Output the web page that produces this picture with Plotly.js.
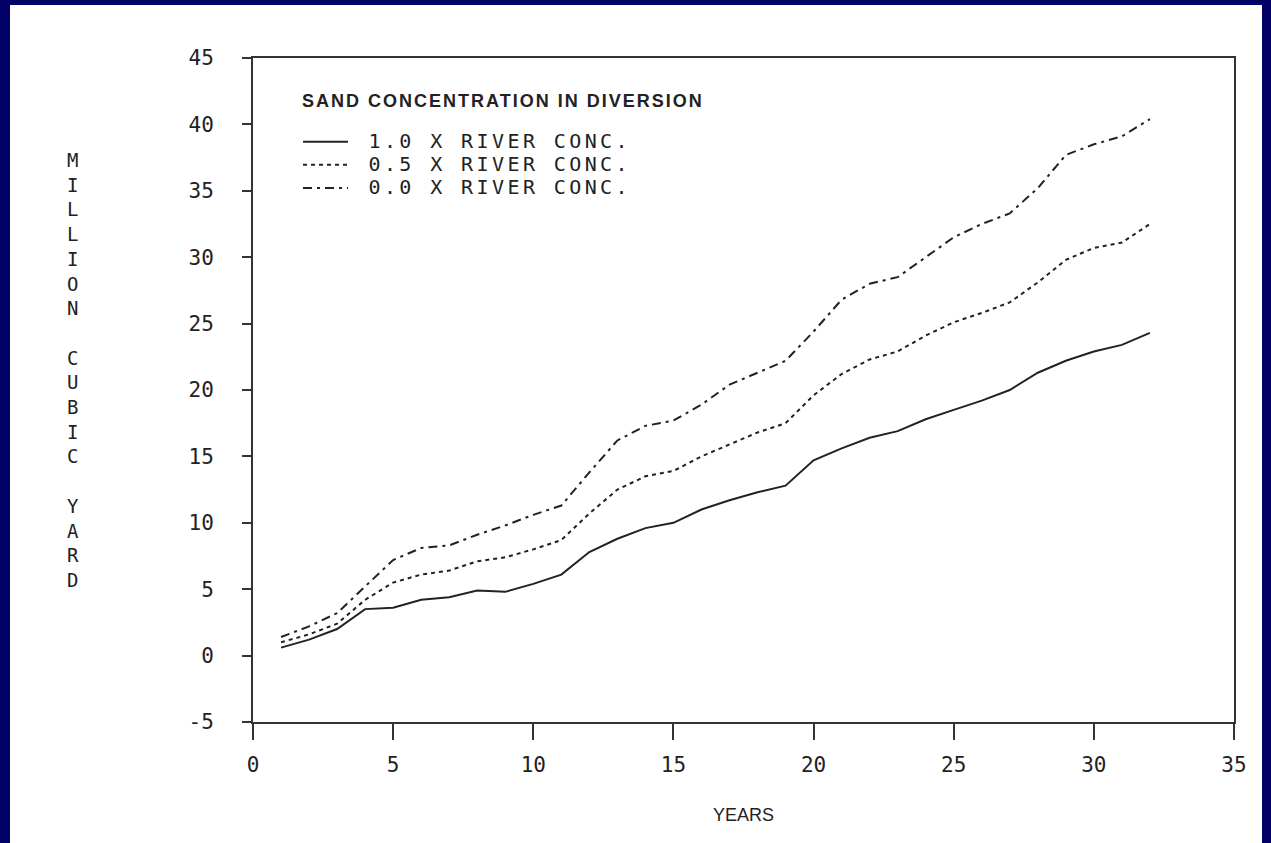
<!DOCTYPE html>
<html>
<head>
<meta charset="utf-8">
<script src="https://cdn.plot.ly/plotly-3.0.1.min.js"></script>
<style>
html,body{margin:0;padding:0;background:#000066;width:1271px;height:843px;overflow:hidden;}
#plot{position:absolute;left:10px;top:5px;width:1252px;height:838px;background:#fff;}
</style>
</head>
<body>
<div id="plot"></div>
<script>
const years = [1,2,3,4,5,6,7,8,9,10,11,12,13,14,15,16,17,18,19,20,21,22,23,24,25,26,27,28,29,30,31,32];
const conc10 = [0.6,1.2,2.0,3.5,3.6,4.2,4.4,4.9,4.8,5.4,6.1,7.8,8.8,9.6,10.0,11.0,11.7,12.3,12.8,14.7,15.6,16.4,16.9,17.8,18.5,19.2,20.0,21.3,22.2,22.9,23.4,24.3];
const conc05 = [1.0,1.6,2.4,4.2,5.5,6.1,6.4,7.1,7.4,8.0,8.7,10.7,12.5,13.5,13.9,15.0,15.9,16.8,17.5,19.6,21.2,22.3,22.9,24.1,25.1,25.8,26.6,28.1,29.8,30.7,31.1,32.5];
const conc00 = [1.4,2.2,3.2,5.2,7.2,8.1,8.3,9.1,9.8,10.6,11.3,13.8,16.2,17.3,17.7,18.9,20.4,21.3,22.2,24.4,26.8,28.0,28.5,30.0,31.5,32.5,33.3,35.2,37.7,38.5,39.1,40.4];
const seriesNames = ['1.0 X RIVER CONC.','0.5 X RIVER CONC.','0.0 X RIVER CONC.'];
const legendTitle = 'SAND CONCENTRATION IN DIVERSION';
const xTitle = 'YEARS';
const yTitle = 'MILLION CUBIC YARD';
const xTicks = [0,5,10,15,20,25,30,35];
const yTicks = [-5,0,5,10,15,20,25,30,35,40,45];

const mono = '"DejaVu Sans Mono", "Liberation Mono", monospace';
const sans = '"Liberation Sans", Arial, sans-serif';
const lineCol = '#222';
const spaced = (s, px) => '<span style="letter-spacing:' + px + 'px">' + s + '</span>';
const bigSpaced = (s) => '<span style="font-size:20px;letter-spacing:3.4px">' + s + '</span>';

const traces = [
  {x: years, y: conc10, name: bigSpaced('\u00a0' + seriesNames[0]), mode:'lines', line:{color:lineCol, width:2, dash:'solid'}},
  {x: years, y: conc05, name: bigSpaced('\u00a0' + seriesNames[1]), mode:'lines', line:{color:lineCol, width:2, dash:'4px,4px'}},
  {x: years, y: conc00, name: bigSpaced('\u00a0' + seriesNames[2]), mode:'lines', line:{color:lineCol, width:2, dash:'9px,5px,3px,5px'}}
];

const yLetters = yTitle.split('').join('<br>');

const layout = {
  width: 1252, height: 838,
  paper_bgcolor:'#fff', plot_bgcolor:'#fff',
  margin:{l:243, r:28, t:53, b:121},
  showlegend:true,
  legend:{
    x:0.0459, y:0.899, xanchor:'left', yanchor:'top',
    bgcolor:'rgba(0,0,0,0)',
    font:{family:mono, size:15.5, color:'#222'},
    tracegroupgap:0, itemwidth:45
  },
  xaxis:{
    range:[0,35], tickvals:xTicks, ticktext:xTicks.map(String),
    showgrid:false, zeroline:false,
    showline:true, linecolor:'#333', linewidth:2, mirror:true,
    ticks:'outside', ticklen:16, tickwidth:2, tickcolor:'#333',
    ticklabelstandoff:7,
    tickfont:{family:mono, size:21, color:'#222'}
  },
  yaxis:{
    range:[-5,45], tickvals:yTicks, ticktext:yTicks.map(String),
    showgrid:false, zeroline:false,
    showline:true, linecolor:'#333', linewidth:2, mirror:true,
    ticks:'outside', ticklen:9, tickwidth:2, tickcolor:'#333',
    ticklabelstandoff:24,
    tickfont:{family:mono, size:21, color:'#222'}
  },
  annotations:[
    {
      xref:'paper', yref:'paper', x:-0.1835, y:0.5294, xanchor:'center', yanchor:'middle',
      text:yLetters, showarrow:false, align:'center',
      font:{family:mono, size:19, color:'#222'}
    },
    {
      xref:'paper', yref:'paper', x:0.0479, y:0.9352, xanchor:'left', yanchor:'middle',
      text:spaced(legendTitle, 2), showarrow:false,
      font:{family:sans, size:18, color:'#222', weight:'bold'}
    },
    {
      xref:'paper', yref:'paper', x:0.5, y:-0.140, xanchor:'center', yanchor:'middle',
      text:xTitle, showarrow:false,
      font:{family:sans, size:18, color:'#222'}
    }
  ]
};

Plotly.newPlot('plot', traces, layout, {displayModeBar:false, staticPlot:true});
</script>
</body>
</html>
